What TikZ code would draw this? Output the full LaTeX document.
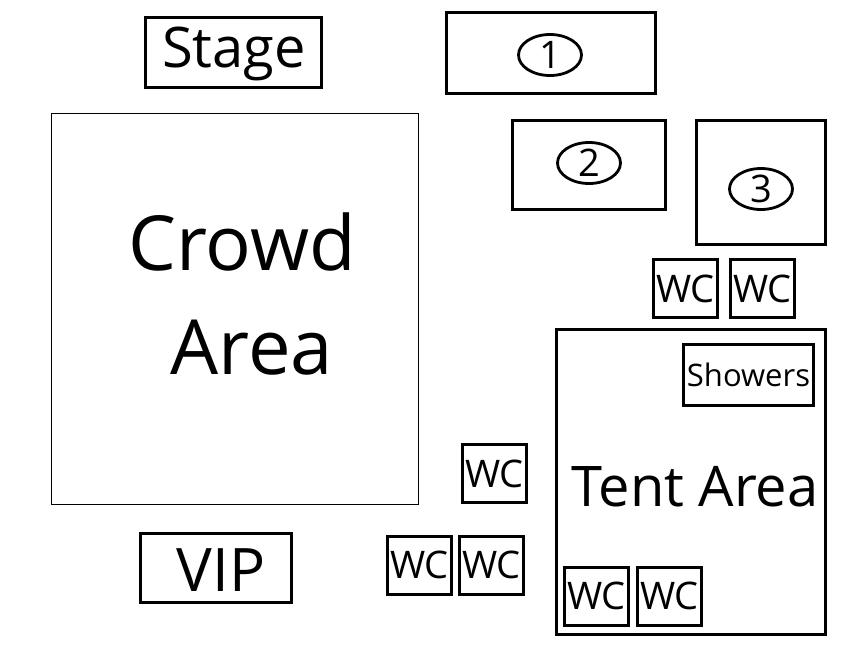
\documentclass[tikz,border=0pt]{standalone}
\usepackage{fontspec}
\setmainfont{Open Sans}
\usetikzlibrary{shapes.geometric}

\tikzset{
    zone/.style={draw, rectangle, line width=3pt, inner sep=0pt},
    wc/.style={zone, minimum width=64pt, minimum height=58pt,
        font=\fontsize{38}{40}\selectfont},
    badge/.style={draw, ellipse, line width=2.8pt, inner sep=0pt,
        minimum width=63pt, minimum height=41pt,
        font=\fontsize{38}{40}\selectfont}
}

\begin{document}
\begin{tikzpicture}[x=1pt, y=-1pt]
\useasboundingbox (0,0) rectangle (846,648);

% stage and fields
\node[zone, minimum width=176pt, minimum height=70pt] (stage) at (233.5,52.5) {};
\node[font=\fontsize{56}{58}\selectfont] (stagetext) at (234,54) {Stage};
\node[zone, line width=3.5pt, minimum width=209pt, minimum height=81pt] (field1) at (551,53) {};
\node[badge] (num1) at (550,55) {1};
\node[zone, minimum width=153pt, minimum height=89pt] (field2) at (589,165) {};
\node[badge] (num2) at (589,163) {2};
\node[zone, minimum width=129pt, minimum height=124pt] (field3) at (761,182.5) {};
\node[badge] (num3) at (761,189) {3};

% crowd
\node[draw, rectangle, line width=1.2pt, minimum width=367pt, minimum height=391pt] (crowd) at (235,309) {};
\node[font=\fontsize{76}{104}\selectfont, align=center] (crowdtext) at (242,294)
    {Crowd\\\hspace*{20pt}Area};

% toilets
\node[wc] (wc1) at (685.5,288.5) {WC};
\node[wc] (wc2) at (762.5,288.5) {WC};
\node[wc] (wc3) at (494.5,473.5) {WC};
\node[wc] (wc4) at (419.5,565) {WC};
\node[wc] (wc5) at (491.5,565) {WC};

% tents
\node[zone, minimum width=269pt, minimum height=305pt] (tent) at (691,482) {};
\node[font=\fontsize{56}{58}\selectfont] (tenttext) at (695,487) {Tent Area};
\node[zone, minimum width=130pt, minimum height=61pt,
    font=\fontsize{31}{33}\selectfont] (showers) at (748.5,375) {Showers};
\node[wc] (wc6) at (596.5,596) {WC};
\node[wc] (wc7) at (669.5,596) {WC};

% vip
\node[zone, minimum width=151pt, minimum height=69pt] (vip) at (216,568) {};
\node[font=\fontsize{60}{62}\selectfont] (viptext) at (221,570) {VIP};

\end{tikzpicture}
\end{document}
